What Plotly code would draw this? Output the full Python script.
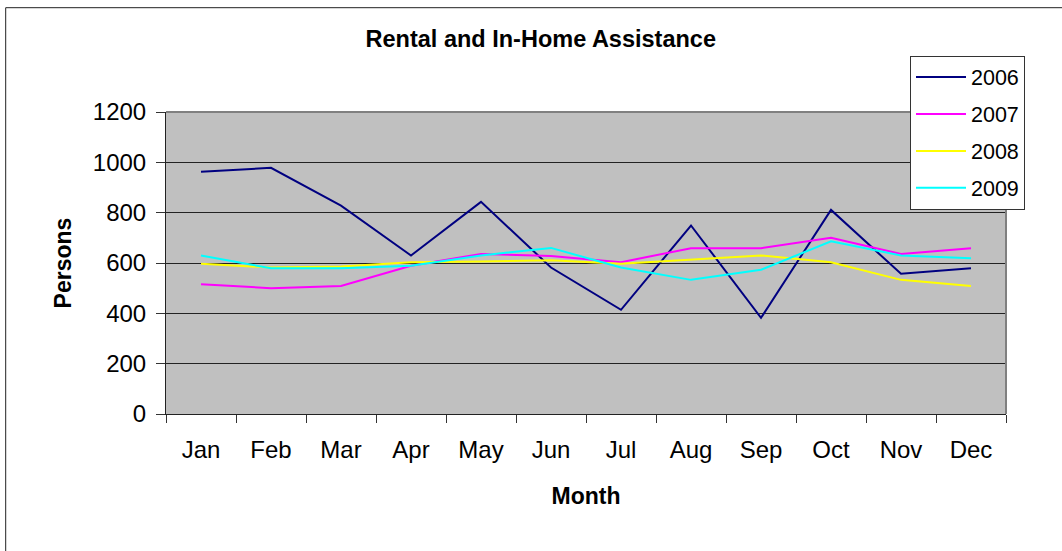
import plotly.graph_objects as go

months = ["Jan", "Feb", "Mar", "Apr", "May", "Jun", "Jul", "Aug", "Sep", "Oct", "Nov", "Dec"]
y2006 = [963, 978, 828, 630, 843, 582, 414, 749, 382, 811, 557, 579]
y2007 = [516, 500, 509, 589, 636, 628, 603, 659, 659, 700, 636, 659]
y2008 = [597, 582, 586, 603, 606, 611, 597, 612, 630, 603, 533, 509]
y2009 = [630, 579, 579, 589, 630, 660, 582, 533, 573, 686, 630, 619]
series_names = ["2006", "2007", "2008", "2009"]
series_colors = ["#000080", "#FF00FF", "#FFFF00", "#00FFFF"]

FONT = "Liberation Sans, Arial, sans-serif"

fig = go.Figure()
for name, vals, col in zip(series_names, [y2006, y2007, y2008, y2009], series_colors):
    fig.add_trace(go.Scatter(x=months, y=vals, mode="lines", name=name,
                             legendgroup=name,
                             line=dict(color=col, width=2)))

W, H = 1062, 551
L, R, T, B = 166, 1006, 112, 414
pw, ph = R - L, B - T

fig.update_layout(
    width=W, height=H,
    margin=dict(l=L, r=W - R, t=T, b=H - B, autoexpand=False),
    paper_bgcolor="white",
    plot_bgcolor="#C0C0C0",
    font=dict(family=FONT, color="black", size=24),
    title=dict(text="<b>Rental and In-Home Assistance</b>",
               font=dict(family=FONT, size=23.5, color="black"),
               x=540.8 / W, xanchor="center", xref="container",
               y=1 - 39 / H, yanchor="middle", yref="container"),
    legend=dict(x=(910 - L) / pw, y=(B - 55.5) / ph, xanchor="left", yanchor="top",
                bgcolor="white", bordercolor="#333333", borderwidth=1,
                font=dict(family=FONT, size=21.5, color="black"),
                tracegroupgap=6, itemwidth=50),
    showlegend=True,
    xaxis=dict(
        type="category", range=[-0.5, 11.5],
        showgrid=False, showline=True, linecolor="#222222", linewidth=1,
        ticks="outside", tickson="boundaries", ticklen=8, tickcolor="#333333",
        tickfont=dict(family=FONT, size=24, color="black"),
        ticklabelstandoff=14,
        title=dict(text="<b>Month</b>", font=dict(family=FONT, size=23, color="black"), standoff=26),
        automargin=False, fixedrange=True,
    ),
    yaxis=dict(
        range=[0, 1200], dtick=200, tick0=0,
        showgrid=True, gridcolor="#222222", gridwidth=1,
        showline=True, linecolor="#222222", linewidth=1,
        ticks="outside", ticklen=9, tickcolor="#333333",
        tickfont=dict(family=FONT, size=24, color="black"),
        ticklabelstandoff=5,
        zeroline=False,
        title=dict(text="<b>Persons</b>", font=dict(family=FONT, size=23, color="black"), standoff=14),
        automargin=False, fixedrange=True,
    ),
    shapes=[
        dict(type="line", xref="paper", yref="paper", x0=0, x1=1, y0=1, y1=1,
             line=dict(color="#808080", width=2), layer="above"),
        dict(type="line", xref="paper", yref="paper", x0=1, x1=1, y0=0, y1=1,
             line=dict(color="#808080", width=2), layer="above"),
        dict(type="rect", xref="paper", yref="paper",
             x0=(5.7 - L) / pw, x1=(W + 20 - L) / pw,
             y0=(B - (H + 20)) / ph, y1=(B - 7.7) / ph,
             line=dict(color="#222222", width=1), fillcolor="rgba(0,0,0,0)", layer="below"),
    ],
)

fig.write_html("out.html", config={"displayModeBar": False, "staticPlot": True},
               post_script="document.body.style.margin='0';document.body.style.overflow='hidden';")
